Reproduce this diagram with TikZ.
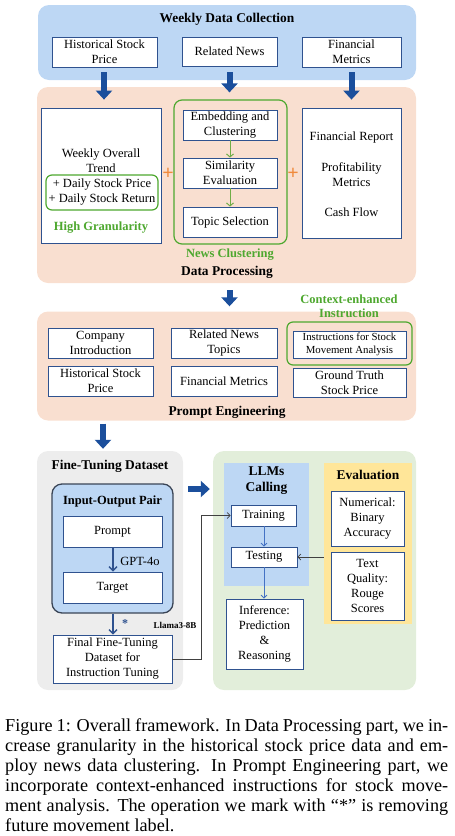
\documentclass[tikz,border=0pt]{standalone}
\usepackage{fontspec}
\setmainfont{Liberation Serif}
\usetikzlibrary{arrows.meta}
\definecolor{topblue}{HTML}{BDD7F4}
\definecolor{peach}{HTML}{F9DFD0}
\definecolor{bxborder}{HTML}{2F528F}
\definecolor{arrowblue}{HTML}{1B4F9C}
\definecolor{grn}{HTML}{4EA82F}
\definecolor{grnarrow}{HTML}{70AD47}
\definecolor{orng}{HTML}{F08A3C}
\definecolor{grayp}{HTML}{EDEDED}
\definecolor{greenp}{HTML}{E2EEDA}
\definecolor{yel}{HTML}{FFE699}
\definecolor{ioborder}{HTML}{3A4556}
\definecolor{thinblue}{HTML}{4472C4}
\definecolor{darkline}{HTML}{404040}
\tikzset{
  panel/.style={rounded corners=11pt, draw=none, inner sep=0pt},
  bx/.style={draw=bxborder, line width=0.8pt, fill=white, align=center, inner sep=1pt, font=\fontsize{12.5}{15}\selectfont},
  ttl/.style={font=\fontsize{13.4}{16}\selectfont\bfseries, inner sep=0pt, align=center},
  sttl/.style={font=\fontsize{12.5}{14.5}\selectfont\bfseries, inner sep=0pt, align=center},
  gttl/.style={sttl, text=grn},
  txt/.style={font=\fontsize{12.5}{15}\selectfont, inner sep=0pt, align=center},
  bigarrow/.style={draw=arrowblue, line width=6pt, -{Triangle[width=16pt,length=9pt]}},
  garrow/.style={draw=grnarrow, line width=1pt, -{Straight Barb[length=3pt,width=7pt]}},
  barrow/.style={draw=thinblue, line width=0.8pt, -{Straight Barb[length=3pt,width=6pt]}},
  parrow/.style={draw=bxborder, line width=1.4pt, -{Straight Barb[length=4pt,width=8pt]}},
  darrow/.style={draw=darkline, line width=0.7pt, -{Straight Barb[length=3pt,width=6pt]}},
  plus/.style={font=\fontsize{20}{20}\selectfont\bfseries, text=orng, inner sep=0pt},
  grbox/.style={draw=grn, line width=1.2pt, rounded corners=6pt, inner sep=0pt}
}
\begin{document}
\begin{tikzpicture}[x=1pt,y=-1pt]
\useasboundingbox (0,0) rectangle (455,836);
% ---------- Weekly Data Collection ----------
\node[panel, fill=topblue, minimum width=378, minimum height=75] (wdc) at (227,42.5) {};
\node[ttl] (wdct) at (227,19) {Weekly Data Collection};
\node[bx, minimum width=105, minimum height=30] (hsp1) at (104.5,52) {Historical Stock\\Price};
\node[bx, minimum width=95, minimum height=29] (rn1) at (229.5,51.5) {Related News};
\node[bx, minimum width=99, minimum height=30] (fm1) at (351.5,52) {Financial\\Metrics};
% ---------- Data Processing ----------
\node[panel, fill=peach, minimum width=379, minimum height=196] (dp) at (226.5,185) {};
\node[bx, minimum width=120, minimum height=135] (trend) at (101,175.5) {};
\node[txt] (trendt) at (101,161) {Weekly Overall\\Trend};
\node[grbox, minimum width=112, minimum height=35, align=center, font=\fontsize{12.5}{15}\selectfont] (daily) at (102,192.5) {+ Daily Stock Price\\+ Daily Stock Return};
\node[gttl] (hg) at (101,228) {High Granularity};
\node[grbox, rounded corners=8pt, minimum width=113, minimum height=144] (nc) at (230.5,172) {};
\node[bx, minimum width=94, minimum height=30] (emb) at (230,125) {Embedding and\\Clustering};
\node[bx, minimum width=94, minimum height=30] (sim) at (230,173) {Similarity\\Evaluation};
\node[bx, minimum width=94, minimum height=30] (top) at (230,222) {Topic Selection};
\node[gttl] (nct) at (230,255) {News Clustering};
\node[ttl] (dpt) at (227,272) {Data Processing};
\node[bx, minimum width=99, minimum height=130] (fin) at (351.5,173) {};
\node[txt] (fr) at (351.5,137) {Financial Report};
\node[txt] (pm) at (351.5,174.5) {Profitability\\Metrics};
\node[txt] (cf) at (351.5,212) {Cash Flow};
\node[plus] (p1) at (168,173.5) {+};
\node[plus] (p2) at (293,173.5) {+};
\draw[garrow] (emb) -- (sim);
\draw[garrow] (sim) -- (top);
% top arrows
\draw[bigarrow, shorten <=5pt, shorten >=8pt] ([xshift=-0.5pt]hsp1.south) -- ([xshift=-0.5pt]hsp1.south |- trend.north);
\draw[bigarrow, shorten <=6pt, shorten >=7pt] (rn1.south) -- (rn1.south |- nc.north);
\draw[bigarrow, shorten <=5pt, shorten >=8pt] (fm1.south) -- (fm1.south |- fin.north);
% ---------- Prompt Engineering ----------
\node[panel, fill=peach, minimum width=379, minimum height=109] (pe) at (226.5,366) {};
\node[gttl] (cei) at (349,306) {Context-enhanced\\Instruction};
\node[bx, minimum width=105, minimum height=30] (ci) at (100.5,343) {Company\\Introduction};
\node[bx, minimum width=106, minimum height=30] (rnt) at (224,343) {Related News\\Topics};
\node[grbox, minimum width=125, minimum height=43] (insg) at (349.5,343.5) {};
\node[bx, minimum width=113, minimum height=27, font=\fontsize{10.8}{13}\selectfont] (ins) at (349.5,344.5) {Instructions for Stock\\Movement Analysis};
\node[bx, minimum width=105, minimum height=30] (hsp2) at (100.5,381) {Historical Stock\\Price};
\node[bx, minimum width=106, minimum height=30] (fm2) at (224,381) {Financial Metrics};
\node[bx, minimum width=113, minimum height=29] (gt) at (349.5,383) {Ground Truth\\Stock Price};
\node[ttl] (pet) at (227,412) {Prompt Engineering};
\draw[bigarrow, shorten <=7pt, shorten >=5pt] (dp.south -| 229.5,0) -- (pe.north -| 229.5,0);
% ---------- Fine-Tuning Dataset ----------
\node[panel, fill=grayp, minimum width=146, minimum height=239] (ft) at (110,570.5) {};
\draw[bigarrow, shorten <=3pt, shorten >=2pt] (pe.south -| 103,0) -- (ft.north -| 103,0);
\node[ttl] (ftt) at (110,466) {Fine-Tuning Dataset};
\node[draw=ioborder, line width=1.3pt, fill=topblue, rounded corners=10pt, minimum width=121, minimum height=129, inner sep=0pt] (io) at (112.5,548.5) {};
\node[sttl] (iot) at (112.5,501) {Input-Output Pair};
\node[bx, minimum width=99, minimum height=31] (prompt) at (112.5,531.5) {Prompt};
\node[bx, minimum width=99, minimum height=31] (target) at (112.5,587.5) {Target};
\draw[parrow] (prompt.south -| 113,0) -- (target.north -| 113,0);
\node[txt] (gpt) at (140,561) {GPT-4o};
\node[bx, minimum width=119, minimum height=48] (final) at (112.5,659) {Final Fine-Tuning\\Dataset for\\Instruction Tuning};
\draw[parrow] (io.south -| 113,0) -- (final.north -| 113,0);
\node[font=\fontsize{12}{12}\selectfont\bfseries, text=bxborder, inner sep=0pt] (star) at (125,624) {*};
\node[font=\fontsize{9}{10}\selectfont\bfseries, inner sep=0pt] (llama) at (175,625) {Llama3-8B};
% ---------- Green panel ----------
\node[panel, fill=greenp, minimum width=203, minimum height=239] (gp) at (314.5,570.5) {};
\draw[bigarrow, shorten <=5pt, shorten >=3pt] (ft.east |- 0,489) -- (gp.west |- 0,489);
\node[fill=topblue, minimum width=85, minimum height=123, inner sep=0pt] (llm) at (266.5,524.5) {};
\node[ttl] (llmt) at (266.5,480.5) {LLMs\\Calling};
\node[bx, minimum width=65, minimum height=21] (train) at (263.5,515.5) {Training};
\node[bx, minimum width=66, minimum height=20] (test) at (264,557) {Testing};
\node[bx, minimum width=77, minimum height=70] (infer) at (264.5,634) {Inference:\\Prediction\\\&\\Reasoning};
\draw[barrow] (train.south -| 264,0) -- (test.north -| 264,0);
\draw[barrow] (test.south -| 264,0) -- (infer.north -| 264,0);
\node[fill=yel, minimum width=88, minimum height=161, inner sep=0pt] (eval) at (368,543.5) {};
\node[ttl] (evalt) at (368,475) {Evaluation};
\node[bx, minimum width=73, minimum height=55] (num) at (367.5,518.5) {Numerical:\\Binary\\Accuracy};
\node[bx, minimum width=73, minimum height=68] (tq) at (367.5,586) {Text\\Quality:\\Rouge\\Scores};
\draw[darrow] (eval.west |- test) -- (test.east);
\coordinate (bend) at (201,659);
\draw[darrow] (final.east) -- (bend) |- (train.west);
% ---------- Caption ----------
\node[anchor=north west, inner sep=0pt, text width=443pt, align=justify, font=\fontsize{18.2}{20}\selectfont] (cap) at (5,718) {Figure 1: Overall framework. In Data Processing part, we in-\linebreak crease granularity in the historical stock price data and em-\linebreak ploy news data clustering. In Prompt Engineering part, we\linebreak incorporate context-enhanced instructions for stock move-\linebreak ment analysis. The operation we mark with ``*'' is removing\linebreak future movement label.};
\end{tikzpicture}
\end{document}
